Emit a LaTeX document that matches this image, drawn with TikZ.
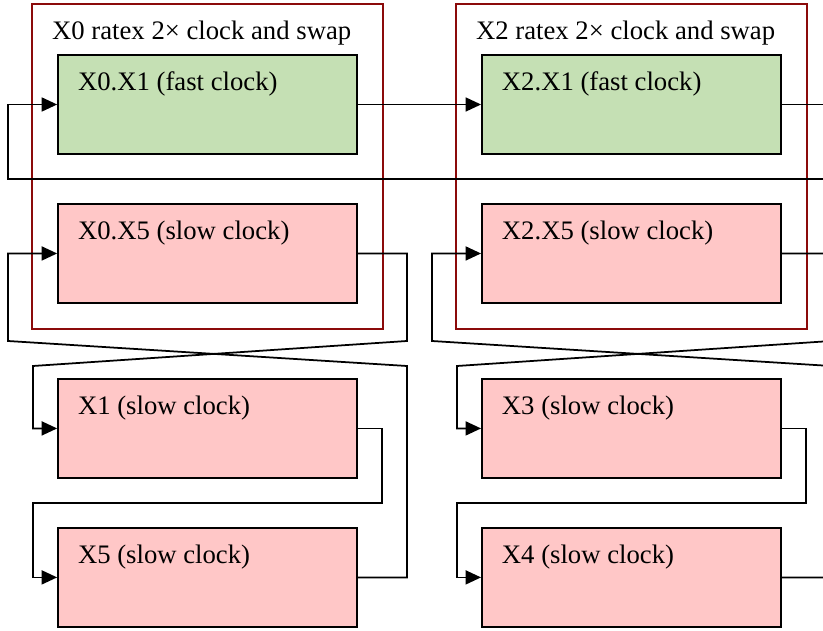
\documentclass[tikz,border=0pt]{standalone}
\usepackage{fontspec}
\setmainfont{Liberation Serif}
\usepackage{tikz}
\usetikzlibrary{calc}
\usetikzlibrary{fit}
\usetikzlibrary{arrows.meta}
\usetikzlibrary{positioning}
\definecolor{fastgreen}{HTML}{C5E0B4}
\definecolor{slowpink}{HTML}{FFC7C7}
\definecolor{clusterred}{HTML}{8B0A0A}
\begin{document}
\begin{tikzpicture}[x=0.02cm,y=-0.02cm,on grid,>={Triangle[length=0.31cm,width=0.28cm]},line width=1pt,
		box/.style={rectangle,draw=black,minimum width=5.98cm,minimum height=1.98cm,inner sep=0pt},
		fastbox/.style={box,fill=fastgreen},
		slowbox/.style={box,fill=slowpink},
		cluster/.style={rectangle,draw=clusterred,inner sep=0.5cm},
		lbl/.style={anchor=base west,inner sep=0pt,xshift=0.4cm,yshift=-0.72cm,font=\fontsize{15.2}{18}\selectfont}]
		\useasboundingbox (0,0) rectangle (823,631);
		\clip (0,0) rectangle (823,631);
		% left column
		\node[fastbox] (x0x1) at (207.5,104.5)     {};
		\node[slowbox] (x0x5) [below=2.98cm of x0x1] {};
		\node[slowbox] (x1)   [below=3.5cm of x0x5]  {};
		\node[slowbox] (x5)   [below=2.98cm of x1]   {};
		% right column
		\node[fastbox] (x2x1) [right=8.48cm of x0x1] {};
		\node[slowbox] (x2x5) [below=2.98cm of x2x1] {};
		\node[slowbox] (x3)   [below=3.5cm of x2x5]  {};
		\node[slowbox] (x4)   [below=2.98cm of x3]   {};
		
		\node at (x0x1.north west) [lbl] {X0.X1 (fast clock)};
		\node at (x0x5.north west) [lbl] {X0.X5 (slow clock)};
		\node at (x1.north west)   [lbl] {X1 (slow clock)};
		\node at (x5.north west)   [lbl] {X5 (slow clock)};
		\node at (x2x1.north west) [lbl] {X2.X1 (fast clock)};
		\node at (x2x5.north west) [lbl] {X2.X5 (slow clock)};
		\node at (x3.north west)   [lbl] {X3 (slow clock)};
		\node at (x4.north west)   [lbl] {X4 (slow clock)};
		
		\coordinate (t0) at ([yshift=0.5cm]x0x1.north);
		\coordinate (t2) at ([yshift=0.5cm]x2x1.north);
		\node[cluster,fit=(t0) (x0x1) (x0x5)] (c0) {};
		\node[cluster,fit=(t2) (x2x1) (x2x5)] (c2) {};
		\node at (c0.north west) [lbl] {X0 ratex 2× clock and swap};
		\node at (c2.north west) [lbl] {X2 ratex 2× clock and swap};
		
		\coordinate (fbL) at (8,179);
		\coordinate (fbR) at (860,179);
		\coordinate (out1) at ([xshift=1.5cm]x2x1.east);
		\coordinate (k0a) at (407,341);
		\coordinate (k0b) at (33,366);
		\coordinate (k0c) at (8,341);
		\coordinate (k0d) at (407,366);
		\coordinate (k0e) at (382,503);
		\coordinate (k0f) at (33,503);
		\coordinate (k2a) at (831,341);
		\coordinate (k2b) at (457,366);
		\coordinate (k2c) at (432,341);
		\coordinate (k2d) at (831,366);
		\coordinate (k2e) at (806,503);
		\coordinate (k2f) at (457,503);
		
		\draw[->] (fbR) -- (fbL) |- (x0x1);
		\draw[->] (x0x1) -- (x2x1);
		\draw (x2x1) -- (out1);
		
		\draw[->] (x0x5) -| (k0a) -- (k0b) |- (x1);
		\draw[->] (x5) -| (k0d) -- (k0c) |- (x0x5);
		\draw[->] (x1) -| (k0e) -- (k0f) |- (x5);
		
		\draw[->] (x2x5) -| (k2a) -- (k2b) |- (x3);
		\draw[->] (x4) -| (k2d) -- (k2c) |- (x2x5);
		\draw[->] (x3) -| (k2e) -- (k2f) |- (x4);
\end{tikzpicture}
\end{document}
